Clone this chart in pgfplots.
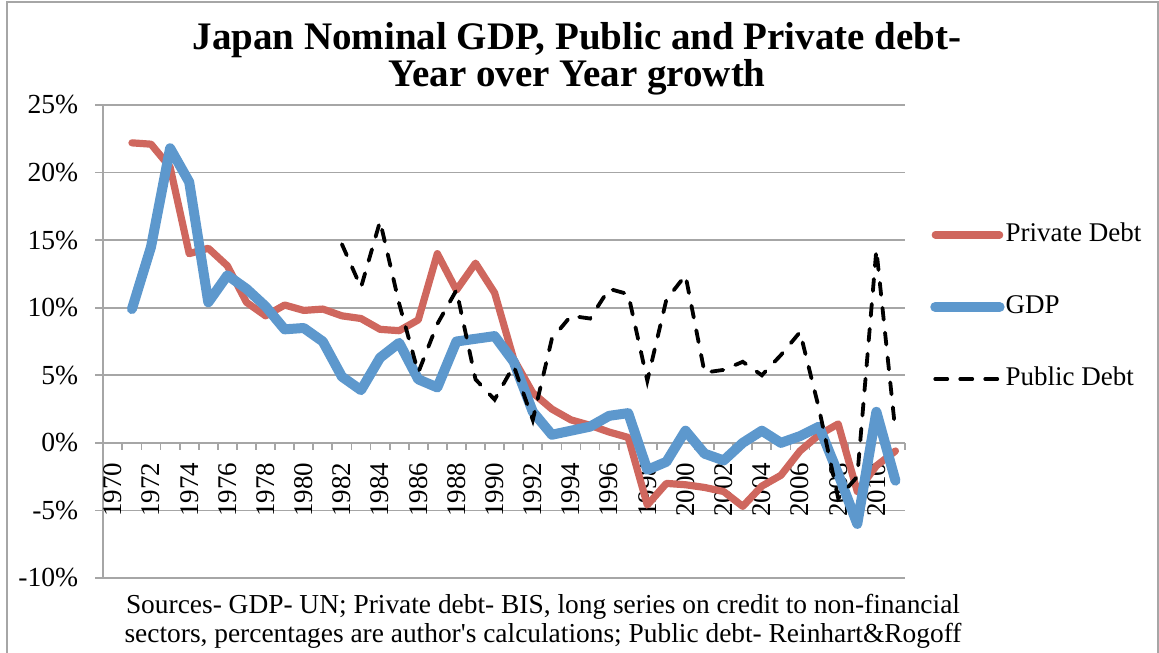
\documentclass[border=0pt]{standalone}
\usepackage{fontspec}
\setmainfont{Liberation Serif}
\newfontfamily\srcfont{Liberation Serif}[Ligatures=TeXOff]
\usepackage{pgfplots}
\pgfplotsset{compat=1.18}
\usepackage{pgfplotstable}

\definecolor{debtred}{RGB}{207,103,94}
\definecolor{gdpblue}{RGB}{93,152,205}
\definecolor{gridgray}{RGB}{166,166,166}

% year-over-year growth, percent
\pgfplotstableread{
year private gdp public
1971 22.2 9.9 nan
1972 22.1 14.5 nan
1973 20.4 21.8 nan
1974 14.0 19.3 nan
1975 14.4 10.4 nan
1976 13.1 12.4 nan
1977 10.4 11.4 nan
1978 9.4 10.1 nan
1979 10.2 8.4 nan
1980 9.8 8.5 nan
1981 9.9 7.5 nan
1982 9.4 4.9 14.7
1983 9.2 3.9 11.5
1984 8.4 6.3 16.4
1985 8.3 7.4 10.3
1986 9.1 4.7 5.2
1987 14.0 4.1 8.8
1988 11.3 7.5 11.3
1989 13.3 7.7 4.7
1990 11.1 7.9 3.2
1991 6.2 6.0 5.7
1992 3.7 2.3 1.7
1993 2.5 0.6 7.7
1994 1.7 0.9 9.4
1995 1.3 1.2 9.2
1996 0.8 2.0 11.4
1997 0.4 2.2 11.0
1998 -4.6 -2.0 4.6
1999 -3.0 -1.4 10.6
2000 -3.1 0.9 12.4
2001 -3.3 -0.8 5.2
2002 -3.6 -1.3 5.4
2003 -4.7 0.0 6.0
2004 -3.2 0.9 5.0
2005 -2.4 0.0 6.5
2006 -0.6 0.5 8.2
2007 0.6 1.2 2.5
2008 1.4 -2.3 -4.1
2009 -3.6 -6.0 -2.5
2010 -1.7 2.3 14.3
2011 -0.6 -2.8 0.8
}\japandata

\begin{document}
\begin{tikzpicture}
\useasboundingbox (-51.65pt,-37pt) rectangle (527.85pt,289pt);
\begin{axis}[
  scale only axis,
  width=400.85pt, height=236.5pt,
  xmin=1969.5, xmax=2011.5,
  ymin=-10, ymax=25,
  axis y line=left,
  axis x line=middle,
  axis line style={-, gridgray, line width=0.9pt},
  tick align=outside,
  ytick={-10,-5,0,5,10,15,20,25},
  yticklabels={-10\%,-5\%,0\%,5\%,10\%,15\%,20\%,25\%},
  yticklabel style={font=\fontsize{13.8}{13.8}\selectfont, anchor=east, xshift=-5pt},
  major tick length=4pt,
  minor tick length=3.5pt,
  xtick={1970,1972,...,2010},
  xticklabels={1970,1972,1974,1976,1978,1980,1982,1984,1986,1988,1990,1992,1994,1996,1998,2000,2002,2004,2006,2008,2010},
  major x tick style={draw=none},
  minor xtick={1969.5,1970.5,...,2011.5},
  every tick/.style={gridgray, line width=0.9pt},
  xticklabel style={font=\fontsize{13.5}{13.5}\selectfont, rotate=90, anchor=east},
  xticklabel shift=2.5pt,
  ymajorgrids,
  grid style={gridgray, line width=0.9pt},
  legend style={at={(1.031,0.573)}, anchor=west, draw=none, fill=none,
    font=\fontsize{13.5}{13.5}\selectfont, inner sep=0pt, row sep=23pt,
    nodes={inner xsep=0.5pt, inner ysep=0pt, text height=10pt, text depth=3pt}},
  legend cell align=left,
  legend image code/.code={\draw[#1] (1.8pt,0pt) -- (34pt,0pt);},
]
\addplot[debtred, line width=3.6pt, line join=round, line cap=round] table[x=year, y=private] {\japandata};
\addlegendentry{Private Debt}
\addplot[gdpblue, line width=5pt, line join=round, line cap=round] table[x=year, y=gdp] {\japandata};
\addlegendentry{GDP}
\addplot[black, line width=1.9pt, line cap=round, dash pattern=on 6pt off 6.5pt] table[x=year, y=public] {\japandata};
\addlegendentry{Public Debt}
\end{axis}
\draw[gridgray, line width=1pt] (-48.3pt,-45pt) rectangle (527.1pt,288.15pt);
\node[font=\fontsize{19.5}{19.5}\selectfont\bfseries, anchor=base] at (236.85pt,264pt) {Japan Nominal GDP, Public and Private debt-};
\node[font=\fontsize{19.5}{19.5}\selectfont\bfseries, anchor=base] at (236.85pt,245.5pt) {Year over Year growth};
\node[font=\srcfont\fontsize{13.7}{13.7}\selectfont, anchor=base] at (219.85pt,-17.5pt) {Sources- GDP- UN; Private debt- BIS, long series on credit to non-financial};
\node[font=\srcfont\fontsize{13.7}{13.7}\selectfont, anchor=base] at (219.85pt,-32pt) {sectors, percentages are author's calculations; Public debt- Reinhart\&Rogoff};
\end{tikzpicture}
\end{document}
